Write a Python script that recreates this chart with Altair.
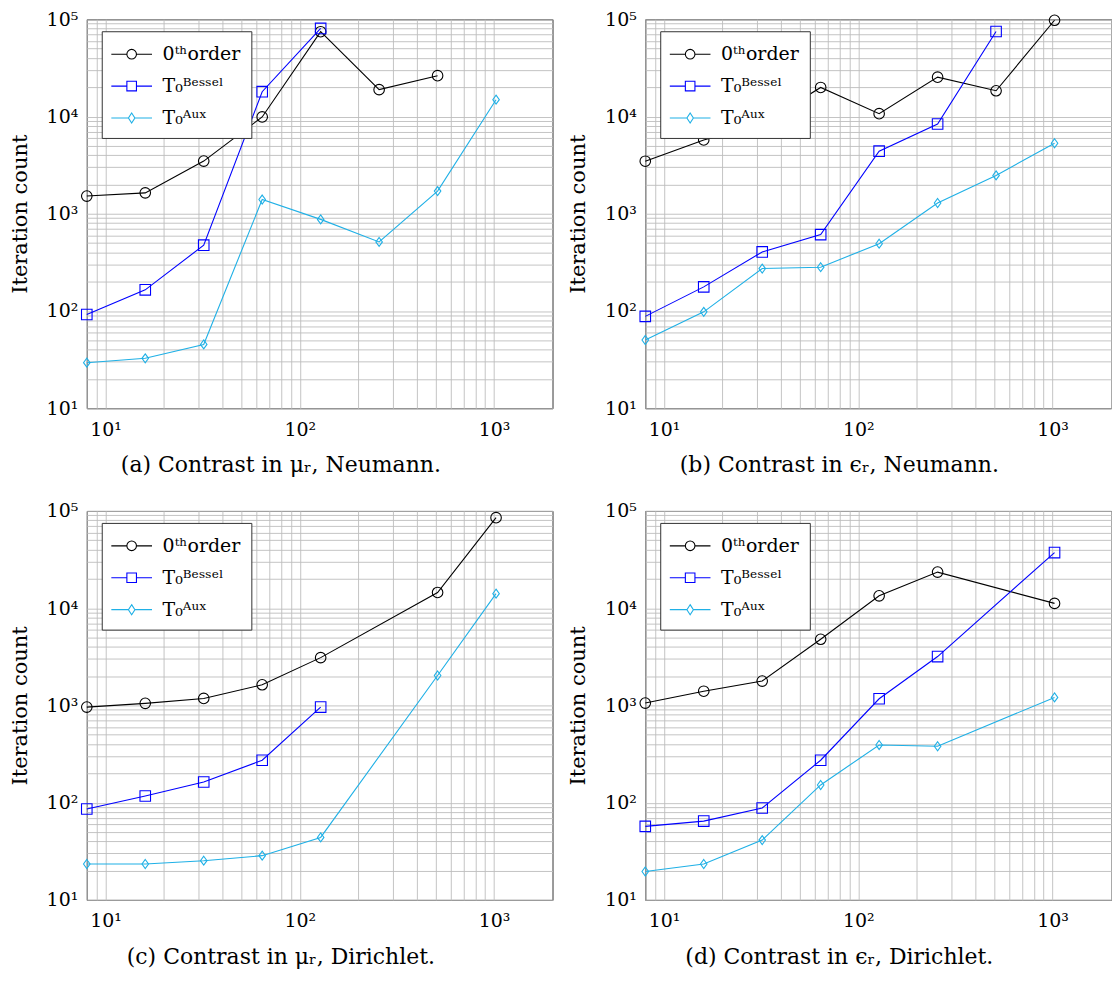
import altair as alt
import pandas as pd

FONT = "DejaVu Serif"

X_VALUES = [8, 16, 32, 64, 128, 256, 512, 1024]
SERIES = ["0ᵗʰorder", "T₀ᴮᵉˢˢᵉˡ", "T₀ᴬᵘˣ"]
COLORS = ["#000000", "#0000ff", "#1fb0e6"]
MARKERS = ["circle", "square", "M0,-0.85L0.62,0L0,0.85L-0.62,0Z"]
LEGEND_SYMBOLS = [
    "M-1.7,0L-0.4,0M0.4,0L1.7,0M0.4,0A0.4,0.4,0,1,1,-0.4,0A0.4,0.4,0,1,1,0.4,0",
    "M-1.7,0L-0.4,0M0.4,0L1.7,0M-0.4,-0.4L0.4,-0.4L0.4,0.4L-0.4,0.4Z",
    "M-1.7,0L-0.27,0M0.27,0L1.7,0M0,-0.42L0.27,0L0,0.42L-0.27,0Z",
]

# (a) Contrast in mu_r, Neumann
zeroth_a = [1520, 1640, 3480, 9900, 74500, 18900, 26300, None]
bessel_a = [92, 165, 475, 18000, 80500, None, None, None]
aux_a = [29.4, 32.6, 45.3, 1400, 875, 513, 1710, 14900]

# (b) Contrast in eps_r, Neumann
zeroth_b = [3470, 5740, 8400, 19900, 10700, 25400, 18400, 97700]
bessel_b = [88, 177, 405, 610, 4400, 8380, 74800, None]
aux_b = [50.3, 98, 273, 282, 492, 1290, 2480, 5310]

# (c) Contrast in mu_r, Dirichlet
zeroth_c = [961, 1050, 1180, 1630, 3100, None, 14500, 85300]
bessel_c = [86, 117, 163, 273, 961, None, None, None]
aux_c = [23.4, 23.4, 25.3, 28.5, 43.9, None, 2030, 14100]

# (d) Contrast in eps_r, Dirichlet
zeroth_d = [1057, 1400, 1780, 4790, 13400, 23500, None, 11200]
bessel_d = [57, 64.6, 88, 273, 1170, 3180, None, 37300]
aux_d = [19.6, 23.4, 41.2, 152, 392, 380, None, 1208]

CAPTIONS = [
    "(a) Contrast in μᵣ, Neumann.",
    "(b) Contrast in ϵᵣ, Neumann.",
    "(c) Contrast in μᵣ, Dirichlet.",
    "(d) Contrast in ϵᵣ, Dirichlet.",
]

X_GRID = [8, 9] + [m * 10 ** k for k in range(1, 3) for m in range(1, 10)] + [1000, 2000]
Y_GRID = [m * 10 ** k for k in range(1, 5) for m in range(1, 10)] + [100000]
X_LABELS = "datum.value==10?'10¹':datum.value==100?'10²':datum.value==1000?'10³':''"
Y_LABELS = ("datum.value==10?'10¹':datum.value==100?'10²':datum.value==1000?'10³':"
            "datum.value==10000?'10⁴':datum.value==100000?'10⁵':''")

W, H = 467, 390


def panel(zeroth, bessel, aux, caption):
    rows = []
    for name, color, marker, vals in zip(SERIES, COLORS, MARKERS, [zeroth, bessel, aux]):
        for x, v in zip(X_VALUES, vals):
            if v is not None:
                rows.append({"x": x, "y": v, "series": name, "color": color, "marker": marker})
    df = pd.DataFrame(rows)
    base = alt.Chart(df)
    xenc = alt.X("x:Q", scale=alt.Scale(type="log", domain=[8, 2000], nice=False),
                 axis=alt.Axis(values=X_GRID, labelExpr=X_LABELS, title=None, labelPadding=12))
    yenc = alt.Y("y:Q", scale=alt.Scale(type="log", domain=[10, 100000], nice=False),
                 axis=alt.Axis(values=Y_GRID, labelExpr=Y_LABELS, title="Iteration count",
                               labelPadding=9, titlePadding=16))
    lines = base.mark_line(strokeWidth=1.1, opacity=1).encode(
        x=xenc, y=yenc,
        color=alt.Color("color:N", scale=None),
        detail="series:N",
    )
    points = base.mark_point(filled=False, size=112, strokeWidth=1.1, opacity=1).encode(
        x=xenc, y=yenc,
        color=alt.Color("color:N", scale=None),
        shape=alt.Shape("marker:N", scale=None),
    )
    leg = alt.Legend(
        orient="none", legendX=15, legendY=12, title=None,
        symbolSize=576, symbolStrokeWidth=1.1, symbolOffset=7, labelOffset=18,
        labelFont=FONT, labelFontSize=19, labelColor="black",
        padding=10, rowPadding=9,
        strokeColor="#333333", fillColor="white",
    )
    key = base.transform_filter("false").mark_point(filled=False, strokeWidth=1.1, opacity=1).encode(
        x=xenc, y=yenc,
        color=alt.Color("series:N", scale=alt.Scale(domain=SERIES, range=COLORS), legend=leg),
        shape=alt.Shape("series:N", scale=alt.Scale(domain=SERIES, range=LEGEND_SYMBOLS), legend=leg),
    )
    return alt.layer(lines, points, key).properties(
        width=W, height=H,
        title=alt.TitleParams(text=caption, orient="bottom", anchor="middle", frame="bounds",
                              font=FONT, fontSize=22, fontWeight="normal", color="black", offset=16),
    )


pa = panel(zeroth_a, bessel_a, aux_a, CAPTIONS[0])
pb = panel(zeroth_b, bessel_b, aux_b, CAPTIONS[1])
pc = panel(zeroth_c, bessel_c, aux_c, CAPTIONS[2])
pd_ = panel(zeroth_d, bessel_d, aux_d, CAPTIONS[3])


def indep(c):
    return c.resolve_scale(color="independent", shape="independent").resolve_legend(
        color="independent", shape="independent")


top = indep(alt.hconcat(pa, pb, spacing=13))
bottom = indep(alt.hconcat(pc, pd_, spacing=13))
chart = indep(alt.vconcat(top, bottom, spacing=24)).properties(
    padding={"left": 0, "top": 0, "right": 0, "bottom": 0},
    background="white",
).configure_view(stroke="black", strokeWidth=1).configure_axis(
    grid=True, gridColor="#bdbdbd", gridWidth=0.9, ticks=False, domain=False,
    labelFont=FONT, labelFontSize=19, labelColor="black", labelOverlap=False,
    titleFont=FONT, titleFontSize=21, titleFontWeight="normal", titleColor="black",
)

chart.save("out.html", embed_options={"renderer": "svg", "actions": False})
